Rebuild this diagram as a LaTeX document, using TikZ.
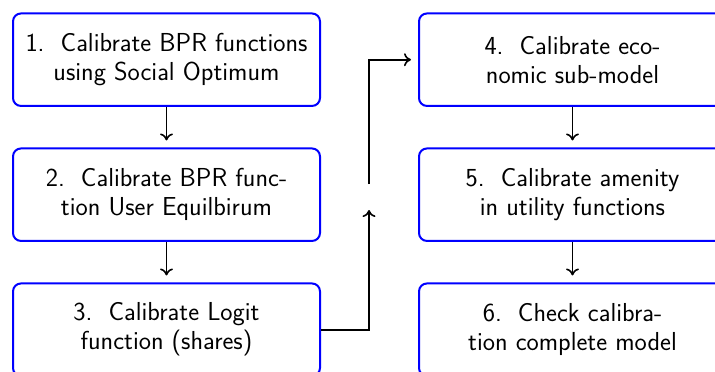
\documentclass[tikz,border=0pt]{standalone}
\usetikzlibrary{arrows.meta}
\newcommand{\stepno}[1]{#1.\hspace{0.62em}}
\begin{document}
\begin{tikzpicture}[x=1pt,y=-1pt,
  stepbox/.style={draw=blue, line width=2pt, rounded corners=8pt,
    minimum width=307pt, minimum height=92.5pt, align=center,
    font=\sffamily\fontsize{26}{29}\selectfont, inner sep=0pt},
  flow/.style={line width=1.6pt, -{To[length=7pt,width=13pt]}, shorten >=7pt}]
\useasboundingbox (0,0) rectangle (715,372);
\clip (0,0) rectangle (715,372);
% left column
\node[stepbox] (s1) at (166.5,59.7) {\stepno{1}Calibrate BPR functions\\using Social Optimum};
\node[stepbox] (s2) at (166.5,194.7) {\stepno{2}Calibrate BPR func-\\tion User Equilbirum};
\node[stepbox] (s3) at (166.5,329.7) {\stepno{3}Calibrate Logit\\function (shares)};
% right column
\node[stepbox] (s4) at (572.5,59.7) {\stepno{4}Calibrate eco-\\nomic sub-model};
\node[stepbox] (s5) at (572.5,194.7) {\stepno{5}Calibrate amenity\\in utility functions};
\node[stepbox] (s6) at (572.5,329.7) {\stepno{6}Check calibra-\\tion complete model};
% vertical steps
\draw[flow] (s1) -- (s2);
\draw[flow] (s2) -- (s3);
\draw[flow] (s4) -- (s5);
\draw[flow] (s5) -- (s6);
% link between the columns, interrupted in the middle
\coordinate (gaplow) at (369,210);
\coordinate (gaphigh) at (369,184);
\draw[flow, shorten >=0pt] (s3.east) -| (gaplow);
\draw[flow] (gaphigh) |- (s4.west);
\end{tikzpicture}
\end{document}
